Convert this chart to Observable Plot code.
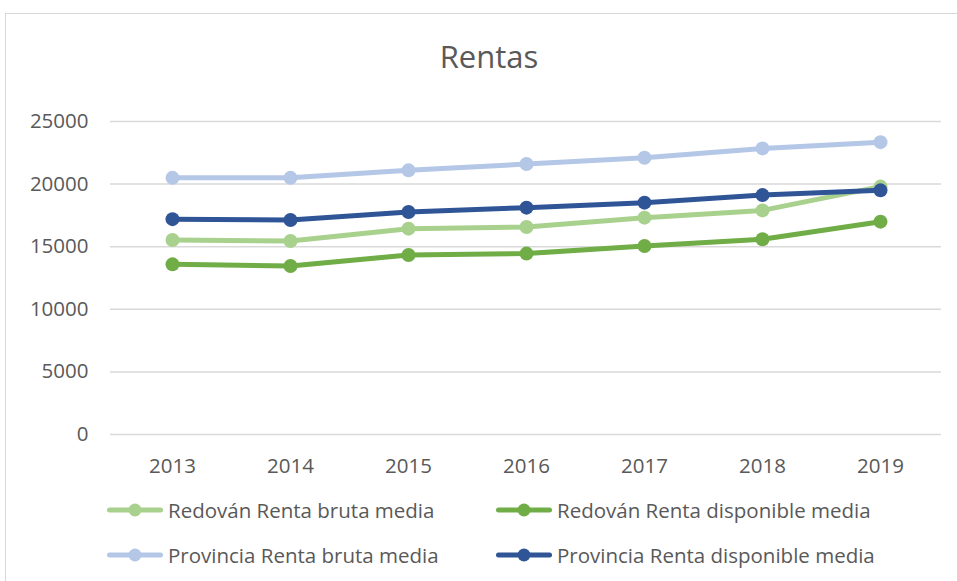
<!DOCTYPE html>
<html>
<head>
<meta charset="utf-8">
<script src="https://cdn.jsdelivr.net/npm/d3@7"></script>
<script src="https://cdn.jsdelivr.net/npm/@observablehq/plot@0.6"></script>
<style>
  body { margin: 0; background: #fff; font-family: "Open Sans", sans-serif; }
  #wrap { position: relative; width: 957px; height: 581px; overflow: hidden; background: #fff; }
  #frame { position: absolute; left: 5px; top: 13px; width: 1000px; height: 1000px; border: 1px solid #d9d9d9; box-sizing: border-box; }
  #title { position: absolute; left: 21px; width: 936px; top: 41px; text-align: center; font-size: 31px; line-height: 31px; color: #595959; }
  #chart { position: absolute; left: 0; top: 0; }
  .leg { position: absolute; display: flex; align-items: center; height: 30px; font-size: 20.5px; color: #595959; white-space: nowrap; }
  .leg svg { margin-right: 5px; }
</style>
</head>
<body>
<div id="wrap">
  <div id="frame"></div>
  <div id="chart"></div>
  <div id="title">Rentas</div>
  <div id="legend"></div>
</div>
<script>
const years = ["2013", "2014", "2015", "2016", "2017", "2018", "2019"];
const redovanBruta = [15540, 15460, 16440, 16570, 17320, 17900, 19800];
const redovanDisponible = [13590, 13460, 14340, 14450, 15060, 15590, 17000];
const provinciaBruta = [20500, 20500, 21100, 21600, 22100, 22850, 23350];
const provinciaDisponible = [17200, 17130, 17770, 18120, 18520, 19120, 19500];
const seriesNames = [
  "Redován Renta bruta media",
  "Redován Renta disponible media",
  "Provincia Renta bruta media",
  "Provincia Renta disponible media"
];
const seriesColors = ["#A9D18E", "#70AD47", "#B4C7E7", "#2F5597"];
const yTicks = [0, 5000, 10000, 15000, 20000, 25000];

const seriesValues = [redovanBruta, redovanDisponible, provinciaBruta, provinciaDisponible];
const data = [];
seriesValues.forEach((vals, i) => vals.forEach((v, j) => data.push({ year: years[j], value: v, series: seriesNames[i] })));

const seriesMarks = seriesNames.flatMap(name => {
  const d = data.filter(r => r.series === name);
  return [
    Plot.line(d, { x: "year", y: "value", stroke: "series", strokeWidth: 5, strokeLinejoin: "round", strokeLinecap: "round" }),
    Plot.dot(d, { x: "year", y: "value", fill: "series", r: 7, stroke: null })
  ];
});

const chart = Plot.plot({
  width: 957,
  height: 490,
  marginTop: 121,
  marginBottom: 56,
  marginLeft: 110,
  marginRight: 16,
  style: { fontFamily: "'Open Sans', sans-serif", fontSize: "20.5px", color: "#595959", background: "transparent" },
  x: { type: "point", domain: years, padding: 0.5, label: null, tickSize: 0, tickPadding: 24 },
  y: { domain: [0, 25000], ticks: yTicks, tickFormat: d3.format("d"), label: null, tickSize: 0, tickPadding: 22 },
  color: { domain: seriesNames, range: seriesColors },
  marks: [
    Plot.ruleY(yTicks, { stroke: "#d9d9d9", strokeWidth: 1.5 }),
    ...seriesMarks
  ]
});
document.getElementById("chart").appendChild(chart);

// Legend below the plot
const legend = document.getElementById("legend");
const legPos = [
  { left: 107, top: 495 },
  { left: 496, top: 495 },
  { left: 107, top: 540 },
  { left: 496, top: 540 }
];
seriesNames.forEach((name, i) => {
  const item = document.createElement("div");
  item.className = "leg";
  item.style.left = legPos[i].left + "px";
  item.style.top = legPos[i].top + "px";
  const c = seriesColors[i];
  item.innerHTML = `<svg width="56" height="16"><line x1="2.5" y1="8" x2="53.5" y2="8" stroke="${c}" stroke-width="5" stroke-linecap="round"/><circle cx="28" cy="8" r="6.5" fill="${c}"/></svg><span>${name}</span>`;
  legend.appendChild(item);
});
</script>
</body>
</html>
